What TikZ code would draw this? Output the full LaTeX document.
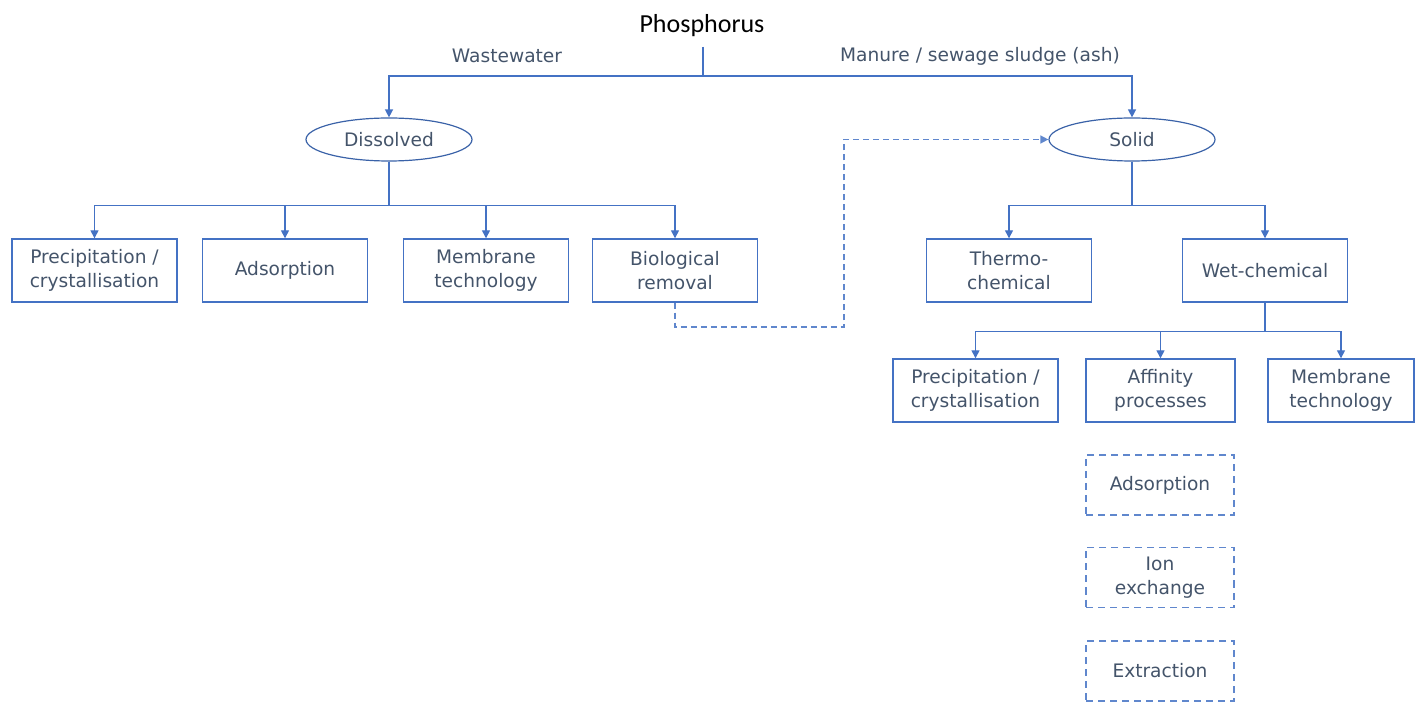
\documentclass[tikz,border=0pt]{standalone}
\usepackage{fontspec}
\setmainfont{DejaVu Sans}
\newfontfamily\titlefont{Carlito}
\usetikzlibrary{arrows.meta, shapes.geometric}
\definecolor{line-blue}{HTML}{4472C4}
\definecolor{oval-blue}{HTML}{3A62A8}
\definecolor{txt-slate}{HTML}{44546A}

\begin{document}
\begin{tikzpicture}[x=0.5pt, y=-0.5pt,
        box/.style={rectangle, draw=line-blue, line width=0.7pt,
                    minimum width=82.5pt, minimum height=31.5pt,
                    align=center, text=txt-slate,
                    font=\fontsize{9.3}{11.8}\selectfont},
        subbox/.style={box, dashed, dash pattern=on 3.5pt off 2.5pt,
                    draw=line-blue!85, minimum width=74pt, minimum height=30pt},
        oval/.style={ellipse, draw=oval-blue, line width=0.6pt,
                    minimum width=83pt, minimum height=21.5pt, inner sep=0pt,
                    text=txt-slate, font=\fontsize{9.3}{11.5}\selectfont},
        lbl/.style={text=txt-slate, font=\fontsize{9.3}{11.5}\selectfont},
        arr/.style={-{Triangle[width=4pt, length=4pt]}, line width=0.7pt, line-blue}]
        \useasboundingbox (0,0) rectangle (1425,705);
        \node[font=\titlefont\fontsize{13}{15}\selectfont] (phos) at (702,26) {Phosphorus};
        \node[lbl] (ww) at (507,56) {Wastewater};
        \node[lbl] (ms) at (980,56) {Manure / sewage sludge (ash)};
        \coordinate (split) at (703,47);
        \node[oval] (dis) at (389,139.5) {Dissolved};
        \node[oval] (sol) at (1132,139.5) {Solid};
        % dissolved branch
        \node[box] (d1) at (94.5,270.5) {Precipitation /\\crystallisation};
        \node[box] (d2) at (285,270.5) {Adsorption};
        \node[box] (d3) at (486,270.5) {Membrane\\technology};
        \node[box] (d4) at (675,270.5) {Biological\\removal};
        % solid branch
        \node[box] (s1) at (1009,270.5) {Thermo-\\chemical};
        \node[box] (s2) at (1265,270.5) {Wet-chemical};
        \node[box] (w1) at (975.5,390.5) {Precipitation /\\crystallisation};
        \node[box, minimum width=74.5pt] (w2) at (1160.5,390.5) {Affinity\\processes};
        \node[box, minimum width=73pt] (w3) at (1341,390.5) {Membrane\\technology};
        \node[subbox] (a1) at (1160,485) {Adsorption};
        \node[subbox] (a2) at (1160,577.5) {Ion\\exchange};
        \node[subbox] (a3) at (1160,671) {Extraction};
        \coordinate (bend) at (844,327);
        \draw[arr] (split) -- ++(0,29) -| (dis.north);
        \draw[arr] (split) -- ++(0,29) -| (sol.north);
        \foreach \n in {d1,d2,d3,d4}
          \draw[arr] (dis.south) -- ++(0,44) -| (\n.north);
        \foreach \n in {s1,s2}
          \draw[arr] (sol.south) -- ++(0,44) -| (\n.north);
        \foreach \n in {w1,w2,w3}
          \draw[arr] (s2.south) -- ++(0,29) -| (\n.north);
        \draw[arr, dashed, dash pattern=on 3pt off 2pt, line-blue!85]
              (d4.south) |- (bend) |- (sol.west);
      \end{tikzpicture}
\end{document}
